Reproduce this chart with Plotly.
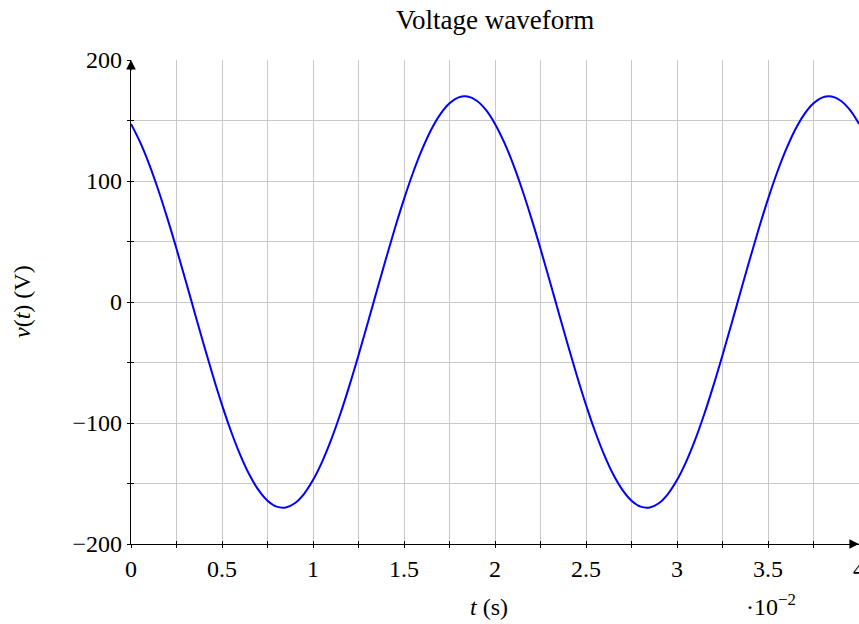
import plotly.graph_objects as go

# time in units of 1e-2 s
t_vals = [i * 0.05 for i in range(81)]
v_vals = [147.2, 132.1, 113.8, 92.6, 69.1, 44.0, 17.8, -8.9, -35.3, -60.9,
          -85.0, -107.0, -126.3, -142.6, -155.3, -164.2, -169.1, -169.8, -166.3, -158.7,
          -147.2, -132.1, -113.8, -92.6, -69.1, -44.0, -17.8, 8.9, 35.3, 60.9,
          85.0, 107.0, 126.3, 142.6, 155.3, 164.2, 169.1, 169.8, 166.3, 158.7,
          147.2, 132.1, 113.8, 92.6, 69.1, 44.0, 17.8, -8.9, -35.3, -60.9,
          -85.0, -107.0, -126.3, -142.6, -155.3, -164.2, -169.1, -169.8, -166.3, -158.7,
          -147.2, -132.1, -113.8, -92.6, -69.1, -44.0, -17.8, 8.9, 35.3, 60.9,
          85.0, 107.0, 126.3, 142.6, 155.3, 164.2, 169.1, 169.8, 166.3, 158.7,
          147.2]
x_ticks = [0, 0.5, 1, 1.5, 2, 2.5, 3, 3.5, 4]
x_ticklabels = ["0", "0.5", "1", "1.5", "2", "2.5", "3", "3.5", "4"]
y_ticks = [-200, -100, 0, 100, 200]

FONT = "Liberation Serif"
GRID = "#c8c8c8"

fig = go.Figure()
fig.add_trace(go.Scatter(x=t_vals, y=v_vals, mode="lines",
                         line=dict(color="#0000ff", width=2, shape="spline"),
                         showlegend=False, hoverinfo="skip", cliponaxis=False))
# invisible trace on overlay axes for inner ticks
fig.add_trace(go.Scatter(x=[0], y=[0], xaxis="x2", yaxis="y2", mode="markers",
                         marker=dict(opacity=0), showlegend=False, hoverinfo="skip"))

common_font = dict(family=FONT, size=24, color="black")

fig.update_layout(
    width=859, height=624,
    margin=dict(l=131, r=0, t=60, b=80, autoexpand=False),
    paper_bgcolor="white", plot_bgcolor="white",
    font=common_font,
    xaxis=dict(range=[0, 4], tickvals=x_ticks, ticktext=x_ticklabels,
               showgrid=True, gridcolor=GRID, gridwidth=1,
               minor=dict(dtick=0.25, tick0=0, showgrid=True, gridcolor=GRID, gridwidth=1,
                          ticks="outside", ticklen=3, tickcolor="black"),
               ticks="outside", ticklen=3, tickcolor="black",
               showline=True, linecolor="black", linewidth=1.2,
               zeroline=False, tickfont=common_font, automargin=False,
               ticklabeloverflow="allow"),
    yaxis=dict(range=[-200, 200], tickvals=y_ticks,
               showgrid=True, gridcolor=GRID, gridwidth=1,
               minor=dict(dtick=50, tick0=0, showgrid=True, gridcolor=GRID, gridwidth=1,
                          ticks="outside", ticklen=3, tickcolor="black"),
               ticks="outside", ticklen=3, tickcolor="black",
               showline=True, linecolor="black", linewidth=1.2,
               zeroline=False, tickfont=common_font, automargin=False,
               ticklabeloverflow="allow"),
    xaxis2=dict(range=[0, 4], overlaying="x", side="bottom", anchor="y2",
                tickvals=[i * 0.25 for i in range(17)], ticks="inside", ticklen=3,
                tickcolor="black", showticklabels=False, showgrid=False, zeroline=False),
    yaxis2=dict(range=[-200, 200], overlaying="y", side="left", anchor="x2",
                tickvals=[i * 50 - 200 for i in range(9)], ticks="inside", ticklen=3,
                tickcolor="black", showticklabels=False, showgrid=False, zeroline=False),
    annotations=[
        dict(text="Voltage waveform", x=0.5, xref="x domain", y=1, yref="paper",
             xanchor="center", yanchor="middle", yshift=40, showarrow=False,
             font=dict(family=FONT, size=27, color="black")),
        dict(text="<i>t</i> (s)", x=(489 - 131) / 728, xref="x domain", y=0, yref="paper",
             xanchor="center", yanchor="middle", yshift=-(607 - 544), showarrow=False,
             font=common_font),
        dict(text="<i>v</i>(<i>t</i>) (V)", x=0, xref="paper", y=0.5, yref="y domain",
             xanchor="center", yanchor="middle", xshift=22 - 131, textangle=-90,
             showarrow=False, font=common_font),
        dict(text="·10<sup>−2</sup>", x=(771 - 131) / 728, xref="x domain", y=0, yref="paper",
             xanchor="center", yanchor="middle", yshift=-(605 - 544), showarrow=False,
             font=common_font),
        dict(x=4, y=-200, ax=3.95, ay=-200, xref="x", yref="y", axref="x", ayref="y",
             showarrow=True, arrowhead=2, arrowsize=1.6, arrowwidth=1.2, arrowcolor="black", text=""),
        dict(x=0, y=200, ax=0, ay=190, xref="x", yref="y", axref="x", ayref="y",
             showarrow=True, arrowhead=2, arrowsize=1.6, arrowwidth=1.2, arrowcolor="black", text=""),
    ],
)

fig.write_html("out.html", config={"displayModeBar": False},
               post_script="document.body.style.margin='0';")
